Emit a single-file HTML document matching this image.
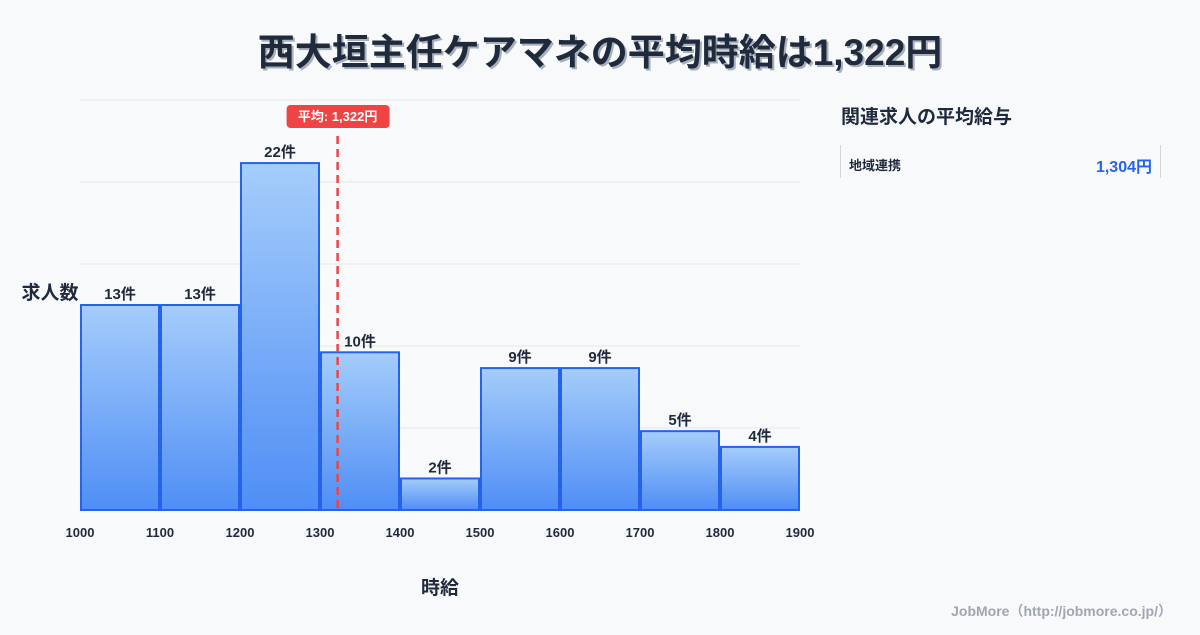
<!DOCTYPE html>
<html><head><meta charset="utf-8"><style>
body{margin:0;background:#f8f9fb;}
svg text{font-family:"Liberation Sans","Noto Sans CJK JP",sans-serif;}
</style></head><body>
<svg id="c" width="1200" height="630" viewBox="0 0 1200 630">
<rect width="1200" height="630" fill="#f8f9fb"/>
<defs><linearGradient id="g" x1="0" y1="0" x2="0" y2="1"><stop offset="0" stop-color="#a5cdfb"/><stop offset="1" stop-color="#4f8ef5"/></linearGradient></defs>
<text x="602" y="67" text-anchor="middle" font-size="37" font-weight="bold" fill="#a8b0bd">西大垣主任ケアマネの平均時給は1,322円</text>
<text x="600" y="65" text-anchor="middle" font-size="37" font-weight="bold" fill="#1f2a3c">西大垣主任ケアマネの平均時給は1,322円</text>
<g id="grid"></g><g id="bars"></g><g id="xt"></g>
<text x="50" y="299" text-anchor="middle" font-size="19" font-weight="bold" fill="#1f2a3c">求人数</text>
<text x="440" y="594" text-anchor="middle" font-size="19" font-weight="bold" fill="#1f2a3c">時給</text>
<text x="841" y="123" font-size="19" font-weight="bold" fill="#1f2a3c">関連求人の平均給与</text>
<line x1="840.5" y1="145" x2="840.5" y2="178" stroke="#d0d5de"/>
<line x1="1160.5" y1="145" x2="1160.5" y2="178" stroke="#d0d5de"/>
<text x="849" y="170" font-size="13" font-weight="bold" fill="#1f2a3c">地域連携</text>
<text x="1152" y="172" text-anchor="end" font-size="16" font-weight="bold" fill="#2563eb">1,304円</text>
<text x="1172" y="616" text-anchor="end" font-size="14" font-weight="bold" fill="#a0a6b0">JobMore（http://jobmore.co.jp/）</text>
</svg>
<script>
const binStarts=[1000,1100,1200,1300,1400,1500,1600,1700,1800];
const counts=[13,13,22,10,2,9,9,5,4];
const xTicks=[1000,1100,1200,1300,1400,1500,1600,1700,1800,1900];
const meanWage=1322;
const yMax=26;
const NS="http://www.w3.org/2000/svg";
const X=v=>80+(v-1000)*0.8;
const Y=v=>510-v*(410/yMax);
function mk(t,a,p){const e=document.createElementNS(NS,t);for(const k in a)e.setAttribute(k,a[k]);(p||document.getElementById('c')).appendChild(e);return e;}
const grid=document.getElementById('grid'),bars=document.getElementById('bars'),xt=document.getElementById('xt');
for(let i=0;i<=5;i++){const y=Y(yMax*i/5);
const l=mk('line',{x1:80,x2:800,y1:y,y2:y,stroke:'#e3e6ea'},grid);

}
binStarts.forEach((b,i)=>{
const r=mk('rect',{x:X(b)+1,y:Y(counts[i]),width:78,height:510-Y(counts[i]),fill:'url(#g)',stroke:'#2563eb','stroke-width':2},bars);


const t=mk('text',{x:X(b)+40,y:Y(counts[i])-6,'text-anchor':'middle','font-size':15,'font-weight':'bold',fill:'#1f2a3c'},bars);
t.textContent=counts[i]+'件';

});
xTicks.forEach(v=>{const t=mk('text',{x:X(v),y:537,'text-anchor':'middle','font-size':13,'font-weight':'bold',fill:'#1f2a3c'},xt);
t.textContent=v;

});
const mx=X(meanWage);
const ml=mk('line',{x1:mx,x2:mx,y1:136,y2:510,stroke:'#ef4444','stroke-width':2.5,'stroke-dasharray':'8,5'});


const mb=mk('rect',{x:mx-51,y:105,width:103,height:23,rx:4,fill:'#ef4444'});


const mt=mk('text',{x:mx,y:121,'text-anchor':'middle','font-size':13,'font-weight':'bold',fill:'#fff'});
mt.textContent='平均: '+meanWage.toLocaleString('en-US')+'円';


</script>
</body></html>
